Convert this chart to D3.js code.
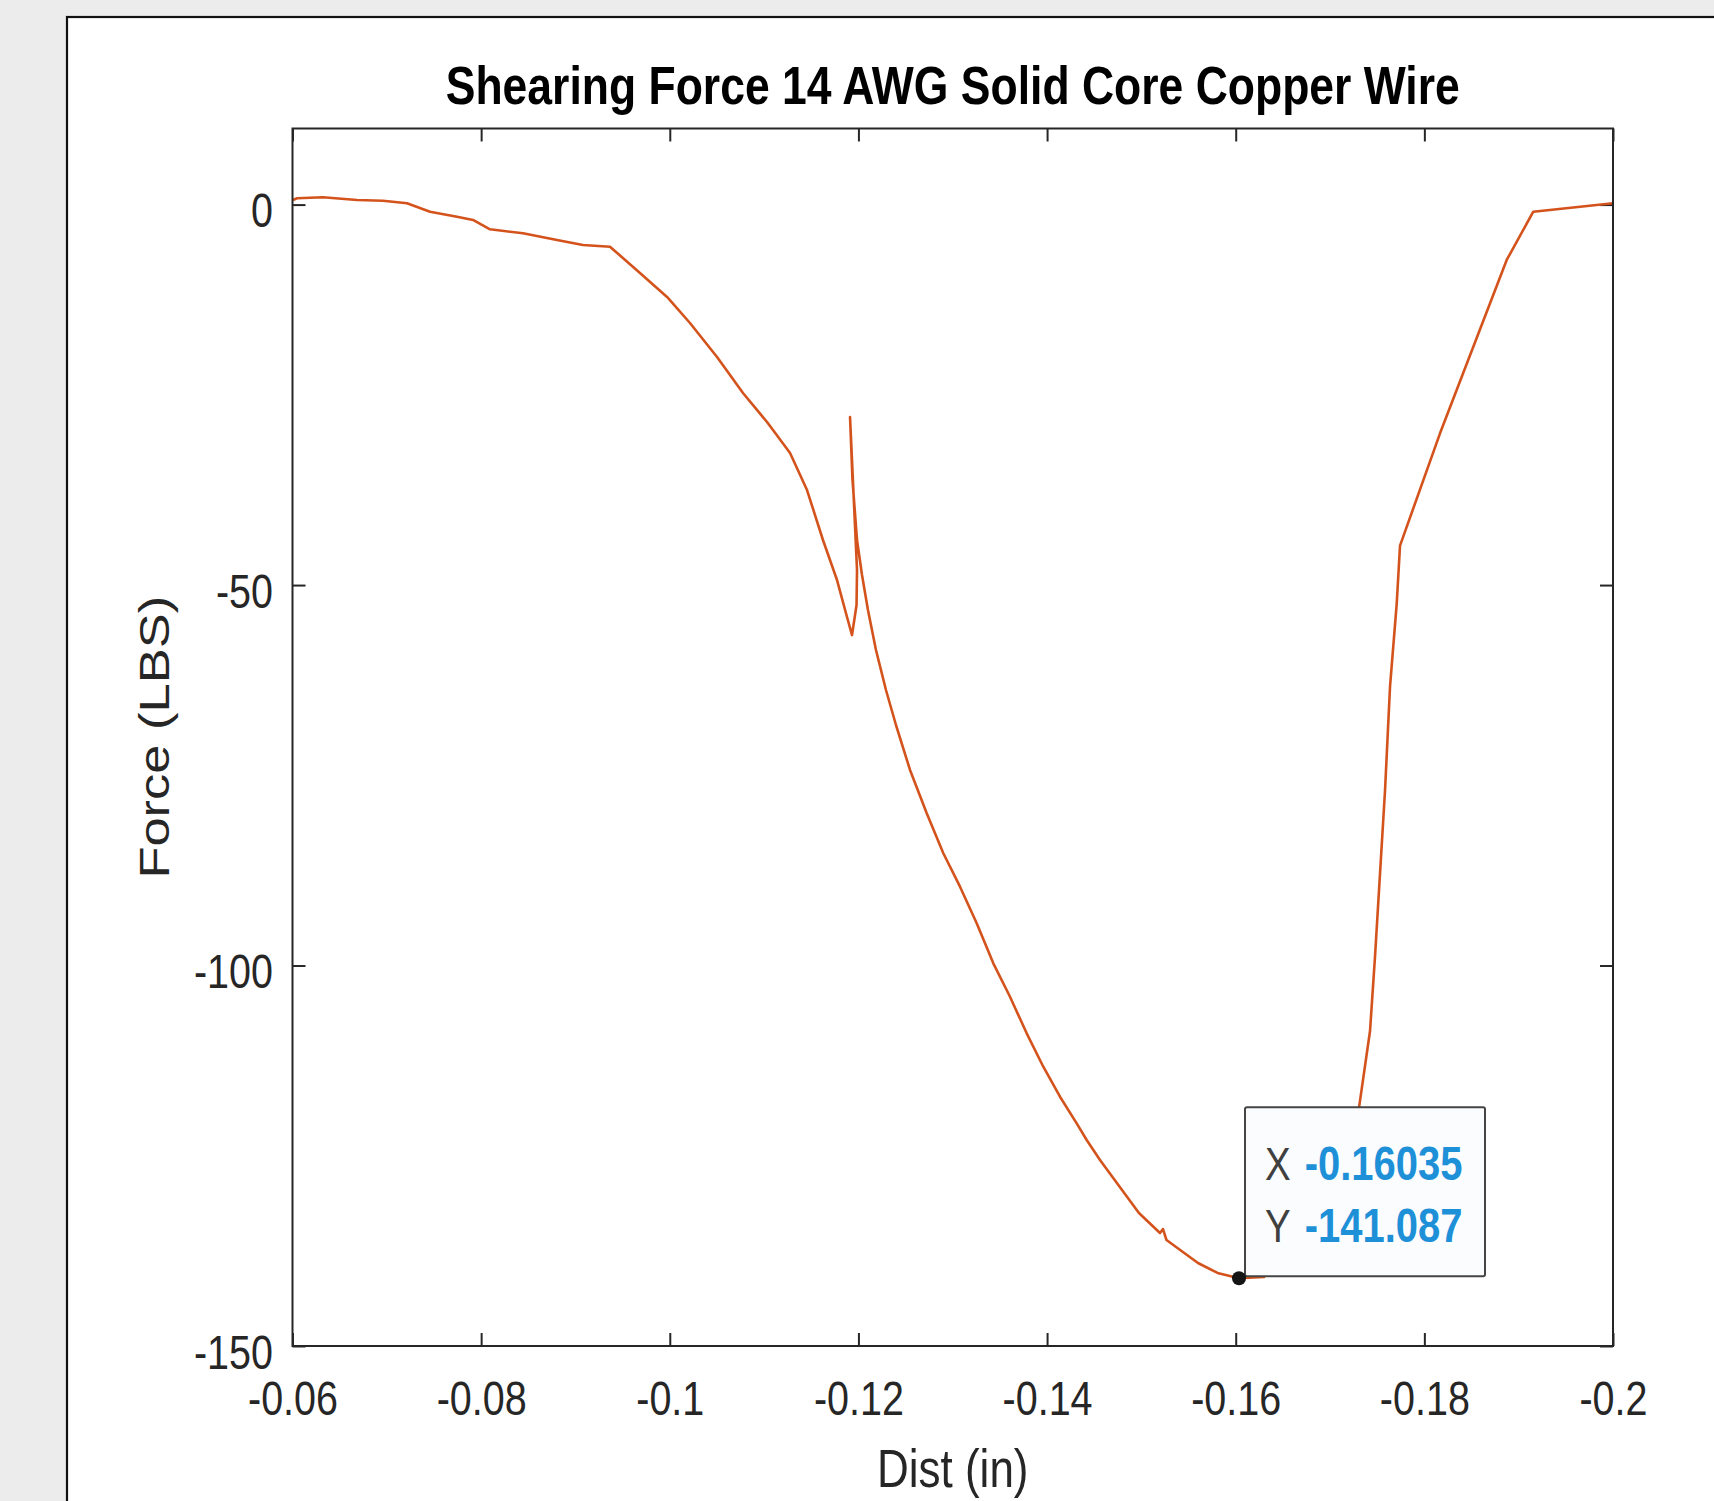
<!DOCTYPE html>
<html>
<head>
<meta charset="utf-8">
<script src="https://cdn.jsdelivr.net/npm/d3@7"></script>
<style>
  body { margin: 0; background: #ececec; }
  svg { display: block; }
  text { font-family: "Liberation Sans", Arial, Helvetica, sans-serif; }
</style>
</head>
<body>
<svg id="chart"></svg>
<script>
// Force / distance trace
const dist = [
  -0.06005, -0.06048, -0.06323, -0.06684, -0.06959, -0.07214, -0.07458, -0.07744, -0.07914, -0.08094, -0.08444, -0.08804, -0.09080, -0.09366,
  -0.09684, -0.09971, -0.10214, -0.10501, -0.10776, -0.11031, -0.11275, -0.11455, -0.11624, -0.11773, -0.11879, -0.11932,
  -0.11980, -0.11985, -0.11911, -0.11937, -0.11985, -0.12038, -0.12101, -0.12186, -0.12292, -0.12398,
  -0.12547, -0.12724, -0.12900, -0.13077, -0.13254, -0.13430, -0.13607, -0.13784, -0.13960, -0.14137, -0.14314, -0.14420,
  -0.14561, -0.14974, -0.15197, -0.15229, -0.15266, -0.15600, -0.15807, -0.16035, -0.16300, -0.17307,
  -0.17424, -0.17477, -0.17530, -0.17583, -0.17636, -0.17707, -0.17742, -0.18166, -0.18519, -0.18873, -0.19155, -0.20000
];
const force = [
  0.60, 0.83, 0.96, 0.60, 0.51, 0.17, -0.93, -1.59, -2.02, -3.25, -3.77, -4.65, -5.31, -5.53,
  -8.99, -12.14, -15.56, -20.03, -24.76, -28.57, -32.65, -37.51, -44.08, -49.34, -54.20, -56.57,
  -52.62, -48.02, -27.91, -36.19, -44.08, -48.68, -53.28, -58.53, -63.79, -68.39,
  -74.30, -79.99, -85.25, -89.64, -94.45, -99.71, -104.10, -108.91, -113.30, -117.24, -120.74, -122.93,
  -125.56, -132.53, -135.15, -134.63, -136.07, -139.09, -140.40, -141.087, -140.94, -118.70,
  -108.61, -98.80, -87.89, -77.00, -63.36, -52.45, -44.82, -30.06, -18.68, -7.28, -0.93, 0.17
];

const xTicks = [-0.06, -0.08, -0.1, -0.12, -0.14, -0.16, -0.18, -0.2];
const yTicks = [0, -50, -100, -150];

// data tip
const tipX = -0.16035;
const tipY = -141.087;

const titleText = 'Shearing Force 14 AWG Solid Core Copper Wire';
const xLabel = 'Dist (in)';
const yLabel = 'Force (LBS)';

const WIDTH = 1714;
const HEIGHT = 1501;
const stretch = 1.22;   // the screenshot is stretched vertically

const plot = { left: 292.5, right: 1613, top: 128.5, bottom: 1346 };
const tickLen = 13;
const lineColor = '#d4531c';
const axisColor = '#262626';

let svg = d3.select('#chart')
    .attr('width', WIDTH)
    .attr('height', HEIGHT);

// white figure panel with dark border (runs off the right and bottom)
svg.append('rect')
    .attr('x', 67)
    .attr('y', 17)
    .attr('width', WIDTH)
    .attr('height', HEIGHT)
    .attr('fill', '#ffffff')
    .attr('stroke', '#111')
    .attr('stroke-width', 2.2);

let xScale = d3.scaleLinear()
    .domain([-0.06, -0.2])
    .range([plot.left, plot.right]);

let yScale = d3.scaleLinear()
    .domain([-150, 10])
    .range([plot.bottom, plot.top]);

const fmt = d => String(+d.toFixed(2));

// axes, ticks pointing inward on all four sides
svg.append('g')
    .attr('transform', `translate(0, ${plot.bottom})`)
    .call(d3.axisBottom(xScale).tickValues(xTicks).tickFormat(fmt).tickSizeInner(-tickLen).tickSizeOuter(0))
    .call(g => g.select('.domain').remove())
    .call(g => g.selectAll('.tick text')
        .attr('y', null).attr('dy', null)
        .attr('transform', `translate(0, 69) scale(1, ${stretch})`));

svg.append('g')
    .attr('transform', `translate(0, ${plot.top})`)
    .call(d3.axisTop(xScale).tickValues(xTicks).tickFormat('').tickSizeInner(-tickLen).tickSizeOuter(0))
    .call(g => g.select('.domain').remove());

svg.append('g')
    .attr('transform', `translate(${plot.left}, 0)`)
    .call(d3.axisLeft(yScale).tickValues(yTicks).tickFormat(fmt).tickSizeInner(-tickLen).tickSizeOuter(0))
    .call(g => g.select('.domain').remove())
    .call(g => g.selectAll('.tick text')
        .attr('x', null).attr('dy', null)
        .attr('transform', `translate(-19.5, 22) scale(1, ${stretch})`));

svg.append('g')
    .attr('transform', `translate(${plot.right}, 0)`)
    .call(d3.axisRight(yScale).tickValues(yTicks).tickFormat('').tickSizeInner(-tickLen).tickSizeOuter(0))
    .call(g => g.select('.domain').remove());

svg.selectAll('.tick line')
    .attr('stroke', axisColor)
    .attr('stroke-width', 2);
svg.selectAll('.tick text')
    .attr('fill', axisColor)
    .style('font-size', '39.5px');

// the trace
let points = dist.map((d, i) => [d, force[i]]);
let line = d3.line()
    .x(d => xScale(d[0]))
    .y(d => yScale(d[1]));

svg.append('path')
    .datum(points)
    .attr('d', line)
    .attr('fill', 'none')
    .attr('stroke', lineColor)
    .attr('stroke-width', 2.6)
    .attr('stroke-linejoin', 'round');

// axes box
svg.append('rect')
    .attr('x', plot.left)
    .attr('y', plot.top)
    .attr('width', plot.right - plot.left)
    .attr('height', plot.bottom - plot.top)
    .attr('fill', 'none')
    .attr('stroke', axisColor)
    .attr('stroke-width', 2);

// data tip
let tx = xScale(tipX);
let ty = yScale(tipY);

svg.append('rect')
    .attr('x', tx + 6)
    .attr('y', ty - 171)
    .attr('width', 240)
    .attr('height', 169)
    .attr('rx', 2)
    .attr('fill', '#fafcfe')
    .attr('stroke', '#454545')
    .attr('stroke-width', 2);

svg.append('circle')
    .attr('cx', tx)
    .attr('cy', ty)
    .attr('r', 7)
    .attr('fill', '#151515');

[['X', tipX, ty - 98], ['Y', tipY, ty - 36]].forEach(([name, value, base]) => {
    let t = svg.append('text')
        .attr('transform', `translate(${tx + 26}, ${base}) scale(1, ${stretch})`)
        .style('font-size', '38.5px');
    t.append('tspan')
        .attr('fill', '#404040')
        .text(name);
    t.append('tspan')
        .attr('dx', 14)
        .attr('fill', '#1e90d8')
        .attr('font-weight', 'bold')
        .style('font-size', '40px')
        .text(String(value));
});

// titles
svg.append('text')
    .attr('transform', `translate(${(plot.left + plot.right) / 2}, 103.5) scale(1, ${stretch})`)
    .attr('text-anchor', 'middle')
    .attr('font-weight', 'bold')
    .attr('fill', '#000')
    .style('font-size', '44.5px')
    .text(titleText);

svg.append('text')
    .attr('transform', `translate(${(plot.left + plot.right) / 2}, 1487) scale(1, ${stretch})`)
    .attr('text-anchor', 'middle')
    .attr('fill', axisColor)
    .style('font-size', '44px')
    .text(xLabel);

svg.append('text')
    .attr('transform', `translate(169, ${(plot.top + plot.bottom) / 2}) scale(1, ${stretch}) rotate(-90)`)
    .attr('text-anchor', 'middle')
    .attr('fill', axisColor)
    .style('font-size', '43px')
    .text(yLabel);
</script>
</body>
</html>
